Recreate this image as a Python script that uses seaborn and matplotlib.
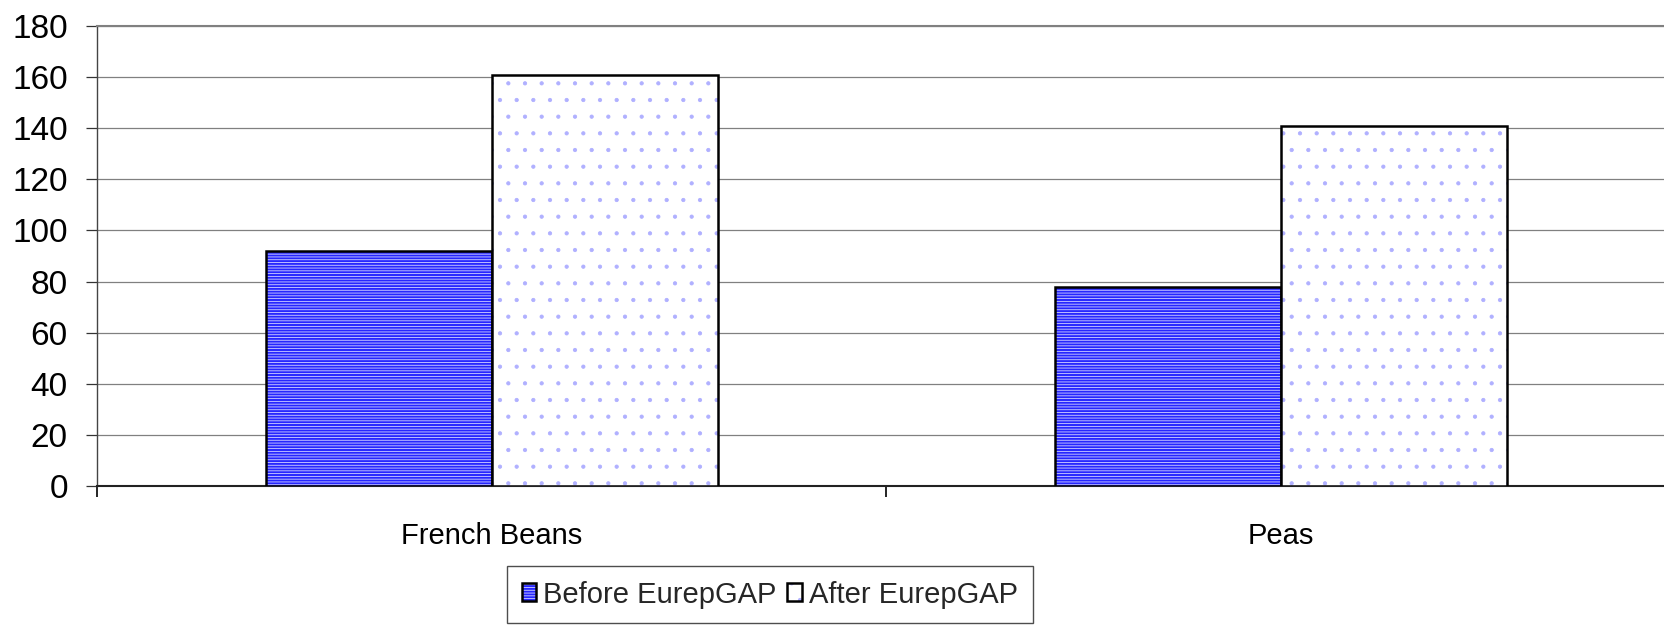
import matplotlib
matplotlib.use("Agg")
import matplotlib.pyplot as plt
from matplotlib.colors import to_rgba
from matplotlib.ticker import FixedLocator
import seaborn as sns
import pandas as pd

# Produce value by crop, before and after EurepGAP certification
crops = ["French Beans", "Peas"]
periods = ["Before EurepGAP", "After EurepGAP"]
before_values = [92, 78]
after_values = [161, 141]
y_ticks = [0, 20, 40, 60, 80, 100, 120, 140, 160, 180]

df = pd.DataFrame({
    "crop": crops * 2,
    "period": [periods[0]] * len(crops) + [periods[1]] * len(crops),
    "value": before_values + after_values,
})

sns.set_theme(style="white")
plt.rcParams["font.family"] = ["Liberation Sans", "DejaVu Sans"]
plt.rcParams["hatch.linewidth"] = 0.6

W, H = 1664, 625
fig = plt.figure(figsize=(W / 100, H / 100), dpi=100)
ax = fig.add_axes([97 / W, (H - 486) / H, 1 - 97 / W, (486 - 26) / H])

sns.barplot(data=df, x="crop", y="value", hue="period", order=crops,
            hue_order=periods, width=0.573, ax=ax, legend=False,
            palette=["#2626ff", "#ffffff"], edgecolor="black",
            linewidth=1.8, saturation=1)

# Fill patterns: blue horizontal stripes, and a light dotted white fill
styles = [("------", "#d4d4ff"), (".", "#b0b0ff")]
for container, (hatch, hcolor) in zip(ax.containers, styles):
    for bar in container:
        bar.set_hatch(hatch)
        bar.set_edgecolor("black")
        bar._hatch_color = to_rgba(hcolor)
        bar.set_zorder(3)

ax.set_xlim(-0.5, 1.485)
ax.set_ylim(0, 180)
ax.yaxis.set_major_locator(FixedLocator(y_ticks))
ax.set_yticklabels([str(t) for t in y_ticks])
ax.grid(axis="y", color="#808080", linewidth=0.9, zorder=0)
ax.set_axisbelow(True)

ax.set_xlabel("")
ax.set_ylabel("")
ax.tick_params(axis="y", which="major", left=True, length=8, width=0.9,
               color="#333333", pad=13, labelsize=24, labelcolor="black")
ax.tick_params(axis="x", which="major", bottom=False, pad=20,
               labelsize=21, labelcolor="black")
ax.xaxis.set_minor_locator(FixedLocator([-0.5, 0.5, 1.5]))
ax.tick_params(axis="x", which="minor", bottom=True, length=8, width=1.2,
               color="black", direction="out")

for side in ["left", "bottom", "top", "right"]:
    ax.spines[side].set_visible(True)
ax.spines["left"].set_color("#444444")
ax.spines["left"].set_linewidth(1.0)
ax.spines["bottom"].set_color("#222222")
ax.spines["bottom"].set_linewidth(1.5)
ax.spines["top"].set_color("#808080")
ax.spines["top"].set_linewidth(1.5)
ax.spines["right"].set_visible(False)

handles = [ax.containers[0][0], ax.containers[1][0]]
leg = fig.legend(handles, periods, loc="upper left",
                 bbox_to_anchor=(507 / W, 1 - 566 / H), ncol=2,
                 fontsize=21, frameon=True, fancybox=False, shadow=False,
                 handlelength=0.5, handleheight=0.55, handletextpad=0.25,
                 columnspacing=0.35, borderpad=0.5, borderaxespad=0)
leg.get_frame().set_edgecolor("#222222")
leg.get_frame().set_linewidth(1.0)

fig.savefig("out.png", dpi=100)
